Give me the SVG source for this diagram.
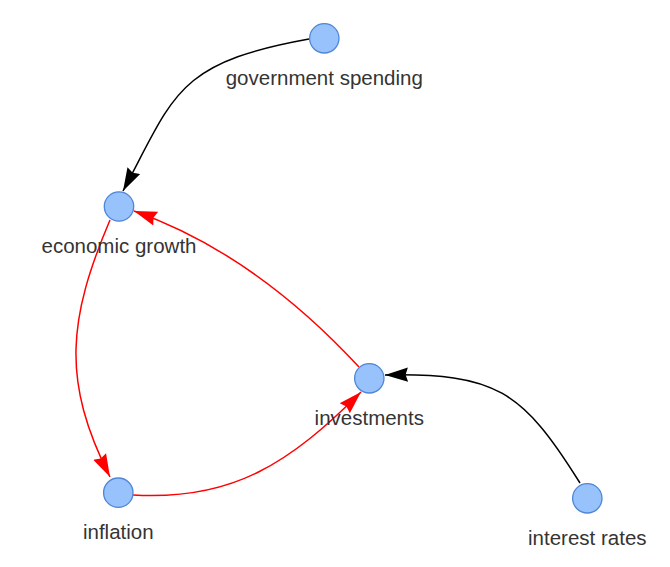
<svg xmlns="http://www.w3.org/2000/svg" width="670" height="567" viewBox="0 0 670 567">
<style>
.node{fill:#97C2FC;stroke:#4f86d6;stroke-width:1.3}
.lbl{font-family:"Liberation Sans",Arial,sans-serif;font-size:20.5px;fill:#343434;text-anchor:middle}
.e{fill:none;stroke-width:1.5}
.red{stroke:#ff0000}
.blk{stroke:#000000}
</style>
<defs>
<marker id="ar" markerUnits="userSpaceOnUse" viewBox="0 0 23 16" refX="23" refY="8" markerWidth="23" markerHeight="16" orient="auto">
<path d="M23,8 L0,0.8 L2.4,8 L0,15.2 Z" fill="#ff0000"/>
</marker>
<marker id="ab" markerUnits="userSpaceOnUse" viewBox="0 0 23 16" refX="23" refY="8" markerWidth="23" markerHeight="16" orient="auto">
<path d="M23,8 L0,0.8 L2.4,8 L0,15.2 Z" fill="#000000"/>
</marker>
</defs>
<rect width="670" height="567" fill="#ffffff"/>
<g id="edges">
<path class="e blk" d="M309,39 C176,63 174.7,94.2 123,191" marker-end="url(#ab)"/>
<path class="e red" d="M110,220 C67.9,319.4 61.4,380.9 110,477" marker-end="url(#ar)"/>
<path class="e red" d="M133,495 C233,501 290.3,462.7 361,392" marker-end="url(#ar)"/>
<path class="e red" d="M359,367 Q253.5,253 134,211" marker-end="url(#ar)"/>
<path class="e blk" d="M580,483 C521.7,389.5 495,373 385,375" marker-end="url(#ab)"/>
</g>
<g id="n-government-spending">
<circle class="node" cx="324.3" cy="38.3" r="14.7"/>
<text class="lbl" x="324.3" y="85">government spending</text>
</g>
<g id="n-economic-growth">
<circle class="node" cx="119" cy="206.5" r="14.7"/>
<text class="lbl" x="119" y="253">economic growth</text>
</g>
<g id="n-investments">
<circle class="node" cx="369.3" cy="378.3" r="14.7"/>
<text class="lbl" x="369.3" y="425">investments</text>
</g>
<g id="n-inflation">
<circle class="node" cx="118.3" cy="492.7" r="14.7"/>
<text class="lbl" x="118.3" y="539">inflation</text>
</g>
<g id="n-interest-rates">
<circle class="node" cx="587.3" cy="498.3" r="14.7"/>
<text class="lbl" x="587.3" y="545">interest rates</text>
</g>
</svg>
